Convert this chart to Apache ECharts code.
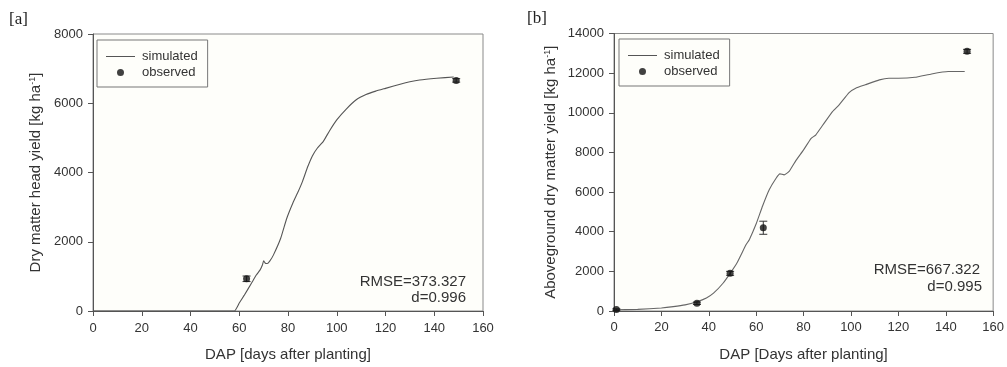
<!DOCTYPE html>
<html>
<head>
<meta charset="utf-8">
<script src="https://cdn.jsdelivr.net/npm/echarts@6/dist/echarts.min.js"></script>
<style>
  html, body { margin: 0; padding: 0; background: #ffffff; }
  #chart { width: 1007px; height: 367px; }
</style>
</head>
<body>
<div id="chart"></div>
<script>
// Panel [a]: dry matter head yield
const dapSimA = [0, 20, 40, 58, 60, 62, 65, 67, 68.5, 69.5, 70, 70.7, 71.5, 72.5, 74, 77, 79.4, 82, 84, 86, 88, 90, 92, 94.5, 97, 100, 104, 108, 112, 116, 120, 126, 130, 134, 141, 148];
const simA    = [0, 0, 0, 0, 230, 450, 800, 1040, 1180, 1330, 1450, 1380, 1370, 1440, 1614, 2100, 2658, 3120, 3420, 3752, 4150, 4480, 4700, 4900, 5200, 5520, 5840, 6100, 6250, 6350, 6430, 6550, 6620, 6670, 6720, 6760];
const dapObsA = [63, 149];
const obsA    = [930, 6660];
const errA    = [80, 50];

// Panel [b]: aboveground dry matter yield
const dapSimB = [0, 10, 20, 25, 30, 35, 39, 42, 46, 49, 52, 55.7, 57.1, 60, 62.7, 65.5, 68.4, 70, 71.8, 73.9, 76.8, 80, 83.1, 85.2, 88.7, 92.2, 95, 99.2, 102, 106, 112, 116, 120, 127, 134, 141, 148];
const simB    = [60, 80, 155, 220, 310, 470, 660, 900, 1400, 1900, 2450, 3340, 3600, 4400, 5300, 6120, 6700, 6920, 6870, 7040, 7600, 8130, 8700, 8890, 9480, 10060, 10400, 11020, 11240, 11410, 11660, 11740, 11740, 11790, 11960, 12080, 12080];
const dapObsB = [1, 35, 49, 63, 149];
const obsB    = [70, 390, 1900, 4200, 13100];
const errB    = [40, 60, 100, 330, 100];

const xTicks = [0, 20, 40, 60, 80, 100, 120, 140, 160];

const pairs = (xs, ys) => xs.map((x, i) => [x, ys[i]]);
const triples = (xs, ys, es) => xs.map((x, i) => [x, ys[i] - es[i], ys[i] + es[i]]);

const sans = 'Liberation Sans, Arial, sans-serif';
const axisColor = '#555';
const textColor = '#333';
const plotBg = '#fefefa';

function errorBars(idx, data) {
  return {
    type: 'custom',
    xAxisIndex: idx, yAxisIndex: idx,
    data: data,
    z: 3,
    renderItem: function (params, api) {
      const lo = api.coord([api.value(0), api.value(1)]);
      const hi = api.coord([api.value(0), api.value(2)]);
      const w = 4;
      const st = { stroke: '#333', lineWidth: 1 };
      return {
        type: 'group',
        children: [
          { type: 'line', shape: { x1: lo[0], y1: lo[1], x2: hi[0], y2: hi[1] }, style: st },
          { type: 'line', shape: { x1: lo[0] - w, y1: lo[1], x2: lo[0] + w, y2: lo[1] }, style: st },
          { type: 'line', shape: { x1: hi[0] - w, y1: hi[1], x2: hi[0] + w, y2: hi[1] }, style: st }
        ]
      };
    }
  };
}

function xAxisCfg(idx, title, labelMargin) {
  return {
    type: 'value', gridIndex: idx, min: 0, max: 160, interval: 20,
    name: title, nameLocation: 'middle', nameGap: 36,
    nameTextStyle: { fontFamily: sans, fontSize: 15, color: textColor },
    axisLine: { show: true, onZero: false, lineStyle: { color: axisColor, width: 1 } },
    axisTick: { show: true, inside: false, length: 5, lineStyle: { color: axisColor } },
    axisLabel: { fontFamily: sans, fontSize: 13, color: textColor, margin: labelMargin,
      formatter: v => (xTicks.indexOf(v) >= 0 ? String(v) : '') },
    splitLine: { show: false }
  };
}

function yAxisCfg(idx, max, interval, title, gap) {
  return {
    type: 'value', gridIndex: idx, min: 0, max: max, interval: interval,
    name: title, nameLocation: 'middle', nameGap: gap, nameRotate: 90,
    nameTextStyle: { fontFamily: sans, fontSize: 15, color: textColor,
      rich: { sup: { fontFamily: sans, fontSize: 9, color: textColor, verticalAlign: 'top', padding: [0, 0, 6, 0] } } },
    axisLine: { show: true, onZero: false, lineStyle: { color: axisColor, width: 1 } },
    axisTick: { show: true, inside: false, length: 5, lineStyle: { color: axisColor } },
    axisLabel: { fontFamily: sans, fontSize: 13, color: textColor, margin: 10, formatter: v => String(v) },
    splitLine: { show: false }
  };
}

function legendCfg(left, top) {
  return {
    left: left, top: top, orient: 'vertical',
    backgroundColor: plotBg, borderColor: '#777', borderWidth: 1,
    padding: [10, 10, 8, 9], itemGap: 3, itemWidth: 29, itemHeight: 13,
    textStyle: { fontFamily: sans, fontSize: 13, color: textColor, padding: [0, 0, 0, 2] },
    selectedMode: false,
    data: [
      { name: 'simulated', icon: 'path://M0,6.5L29,6.5L29,7.5L0,7.5Z' },
      { name: 'observed', icon: 'path://M11,6.5a3.5,3.5 0 1,0 7,0a3.5,3.5 0 1,0 -7,0M0,0L0.01,0M29,13L28.99,13' }
    ]
  };
}

const chart = echarts.init(document.getElementById('chart'), null, { renderer: 'canvas' });

chart.setOption({
  backgroundColor: '#ffffff',
  animation: false,
  grid: [
    { left: 93, top: 34, width: 390, height: 281, show: true, backgroundColor: plotBg, borderColor: '#8a8a8a', borderWidth: 1 },
    { left: 614, top: 33.5, width: 381, height: 277.5, show: true, backgroundColor: plotBg, borderColor: '#8a8a8a', borderWidth: 1 }
  ],
  xAxis: [
    xAxisCfg(0, 'DAP [days after planting]', 11),
    xAxisCfg(1, 'DAP [Days after planting]', 10)
  ],
  yAxis: [
    yAxisCfg(0, 8000, 2000, 'Dry matter head yield [kg ha{sup|-1}]', 50),
    yAxisCfg(1, 14000, 2000, 'Aboveground dry matter yield [kg ha{sup|-1}]', 56)
  ],
  legend: [legendCfg(97, 40), legendCfg(619, 39)],
  graphic: [
    { type: 'text', left: 9, top: 11, style: { text: '[a]', font: '17px "Liberation Serif", "Times New Roman", serif', fill: '#222' } },
    { type: 'text', left: 527, top: 10, style: { text: '[b]', font: '17px "Liberation Serif", "Times New Roman", serif', fill: '#222' } },
    { type: 'text', x: 466, y: 282, style: { text: 'RMSE=373.327', font: '15px "Liberation Sans", Arial, sans-serif', fill: textColor, textAlign: 'right', textVerticalAlign: 'middle' } },
    { type: 'text', x: 466, y: 298, style: { text: 'd=0.996', font: '15px "Liberation Sans", Arial, sans-serif', fill: textColor, textAlign: 'right', textVerticalAlign: 'middle' } },
    { type: 'text', x: 980, y: 270, style: { text: 'RMSE=667.322', font: '15px "Liberation Sans", Arial, sans-serif', fill: textColor, textAlign: 'right', textVerticalAlign: 'middle' } },
    { type: 'text', x: 982, y: 287, style: { text: 'd=0.995', font: '15px "Liberation Sans", Arial, sans-serif', fill: textColor, textAlign: 'right', textVerticalAlign: 'middle' } }
  ],
  series: [
    { name: 'simulated', type: 'line', xAxisIndex: 0, yAxisIndex: 0, data: pairs(dapSimA, simA),
      symbol: 'none', smooth: 0.12, lineStyle: { color: '#555', width: 1.1 }, itemStyle: { color: '#555' }, z: 2 },
    { name: 'observed', type: 'scatter', xAxisIndex: 0, yAxisIndex: 0, data: pairs(dapObsA, obsA),
      symbol: 'circle', symbolSize: 7, itemStyle: { color: '#111' }, z: 4 },
    errorBars(0, triples(dapObsA, obsA, errA)),
    { name: 'simulated', type: 'line', xAxisIndex: 1, yAxisIndex: 1, data: pairs(dapSimB, simB),
      symbol: 'none', smooth: 0.12, lineStyle: { color: '#666', width: 1.1 }, itemStyle: { color: '#555' }, z: 2 },
    { name: 'observed', type: 'scatter', xAxisIndex: 1, yAxisIndex: 1, data: pairs(dapObsB, obsB),
      symbol: 'circle', symbolSize: 7, itemStyle: { color: '#111' }, z: 4 },
    errorBars(1, triples(dapObsB, obsB, errB))
  ]
});
</script>
</body>
</html>
